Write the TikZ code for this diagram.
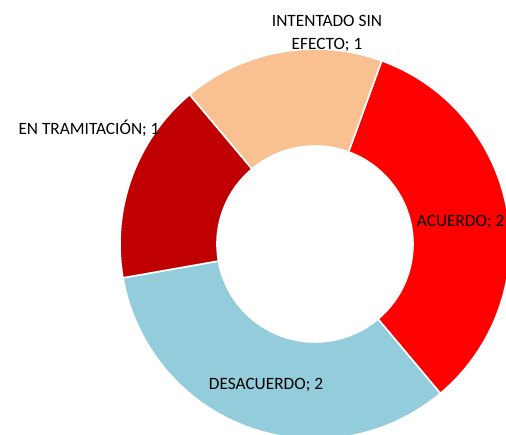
\documentclass[tikz,border=0pt]{standalone}
\usepackage{fontspec}
\setmainfont{Carlito}
\definecolor{acuerdo}{HTML}{FF0000}
\definecolor{desacuerdo}{HTML}{93CDDC}
\definecolor{tramite}{HTML}{C00000}
\definecolor{sinefecto}{HTML}{F9C191}
\tikzset{
	slice/.style={draw=white, line width=1.6pt, line join=round},
	lbl/.style={inner sep=0pt, font=\fontsize{17.3pt}{22.7pt}\selectfont, text=black}
}
\begin{document}
\begin{tikzpicture}
	\useasboundingbox (0pt,0pt) rectangle (506pt,435pt);
	\begin{scope}[shift={(315pt,191pt)}]
	\filldraw[slice, fill=acuerdo] (70:98pt) -- (70:195pt) arc[start angle=70, end angle=-50, radius=195pt] -- (-50:98pt) arc[start angle=-50, end angle=70, radius=98pt] -- cycle;
	\filldraw[slice, fill=desacuerdo] (-50:98pt) -- (-50:195pt) arc[start angle=-50, end angle=-170, radius=195pt] -- (-170:98pt) arc[start angle=-170, end angle=-50, radius=98pt] -- cycle;
	\filldraw[slice, fill=tramite] (190:98pt) -- (190:195pt) arc[start angle=190, end angle=130, radius=195pt] -- (130:98pt) arc[start angle=130, end angle=190, radius=98pt] -- cycle;
	\filldraw[slice, fill=sinefecto] (130:98pt) -- (130:195pt) arc[start angle=130, end angle=70, radius=195pt] -- (70:98pt) arc[start angle=70, end angle=130, radius=98pt] -- cycle;
	\end{scope}
	\node[lbl, anchor=base] (lblsinefecto) at (327pt,385.7pt) {EFECTO; 1};
	\node[lbl, anchor=base] (lblintentado) at (327pt,408.3pt) {INTENTADO SIN};
	\node[lbl, anchor=base] (lbltramite) at (89pt,300.7pt) {EN TRAMITACIÓN; 1};
	\node[lbl, anchor=base west] (lblacuerdo) at (416.7pt,208.3pt) {ACUERDO; 2};
	\node[lbl, anchor=base] (lbldesacuerdo) at (266pt,45pt) {DESACUERDO; 2};
\end{tikzpicture}
\end{document}
